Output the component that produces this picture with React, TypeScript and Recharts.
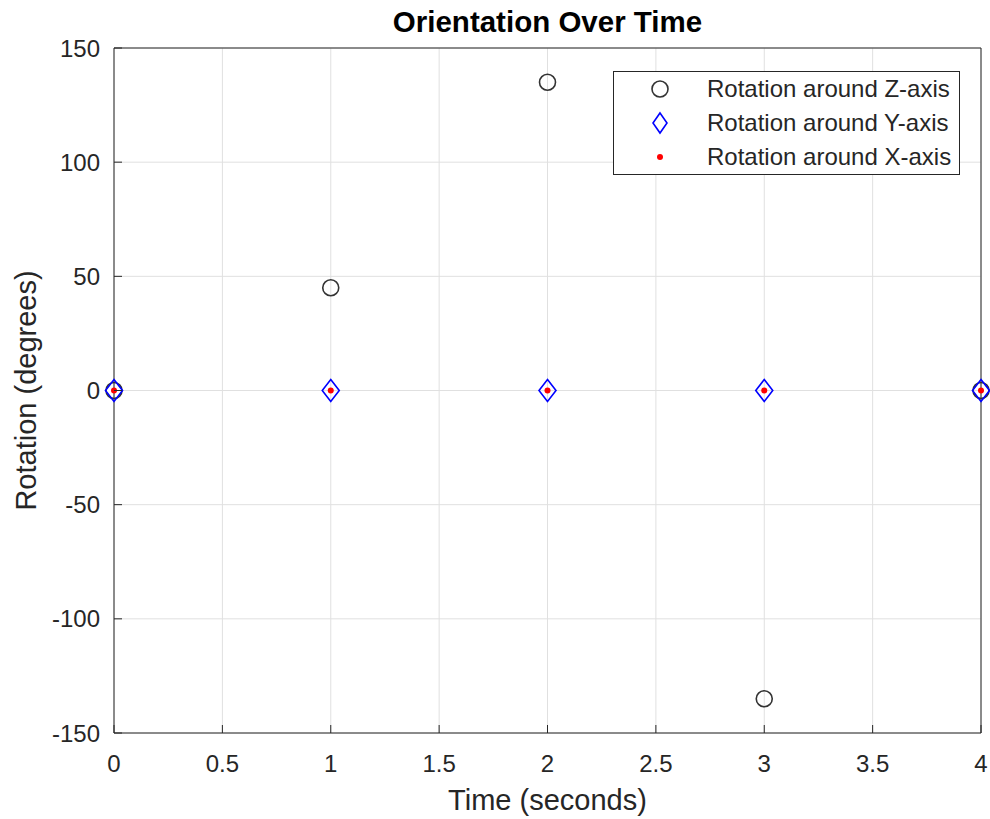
import React from "react";
import {
  ScatterChart,
  Scatter,
  XAxis,
  YAxis,
  CartesianGrid,
  ReferenceLine,
  Legend,
  Label,
} from "recharts";

const times = [0, 1, 2, 3, 4];
const rotZ = [0, 45, 135, -135, 0];
const rotY = [0, 0, 0, 0, 0];
const rotX = [0, 0, 0, 0, 0];
const xTicks = [0, 0.5, 1, 1.5, 2, 2.5, 3, 3.5, 4];
const yTicks = [-150, -100, -50, 0, 50, 100, 150];

const FONT = '"Liberation Sans", Arial, Helvetica, sans-serif';
const INK = "#262626";

const zData = times.map((t, i) => ({ t, v: rotZ[i] }));
const yData = times.map((t, i) => ({ t, v: rotY[i] }));
const xData = times.map((t, i) => ({ t, v: rotX[i] }));

const CircleMark = ({ cx, cy }: any) => (
  <circle cx={cx} cy={cy} r={8} fill="none" stroke="#333333" strokeWidth={1.6} />
);
const DiamondMark = ({ cx, cy }: any) => (
  <polygon
    points={`${cx},${cy - 11} ${cx + 8.5},${cy} ${cx},${cy + 11} ${cx - 8.5},${cy}`}
    fill="none"
    stroke="#0000ff"
    strokeWidth={1.6}
  />
);
const DotMark = ({ cx, cy }: any) => <circle cx={cx} cy={cy} r={3} fill="#ff0000" />;

const XTick = ({ x, y, payload }: any) => (
  <g>
    <line x1={x} y1={y} x2={x} y2={y - 8} stroke={INK} />
    <text
      x={x}
      y={y + 30}
      textAnchor="middle"
      dominantBaseline="central"
      fill={INK}
      fontSize={24}
      fontFamily={FONT}
    >
      {payload.value}
    </text>
  </g>
);

const YTick = ({ x, y, payload }: any) => (
  <g>
    <line x1={x} y1={y} x2={x + 8} y2={y} stroke={INK} />
    <text
      x={x - 14}
      y={y}
      textAnchor="end"
      dominantBaseline="central"
      fill={INK}
      fontSize={24}
      fontFamily={FONT}
    >
      {payload.value}
    </text>
  </g>
);

const legendItems = [
  { name: "Rotation around Z-axis", mark: <circle cx={12} cy={12} r={8} fill="none" stroke="#333333" strokeWidth={1.6} /> },
  { name: "Rotation around Y-axis", mark: <polygon points="12,2 19,12 12,22 5,12" fill="none" stroke="#0000ff" strokeWidth={1.6} /> },
  { name: "Rotation around X-axis", mark: <circle cx={12} cy={12} r={3} fill="#ff0000" /> },
];

const LegendBox = () => (
  <div
    style={{
      width: 347,
      height: 104,
      boxSizing: "border-box",
      border: `1px solid ${INK}`,
      background: "#fff",
      fontFamily: FONT,
      fontSize: 24,
      color: INK,
      paddingTop: 0,
    }}
  >
    {legendItems.map((item) => (
      <div key={item.name} style={{ display: "flex", alignItems: "center", height: 34 }}>
        <svg width={24} height={24} style={{ marginLeft: 34, marginRight: 59 }}>
          {item.mark}
        </svg>
        <span style={{ marginLeft: -24 }}>{item.name}</span>
      </div>
    ))}
  </div>
);

export default function App() {
  return (
    <div style={{ position: "absolute", left: 0, top: 0, width: 990, height: 819, background: "#fff" }}>
      <div
        style={{
          position: "absolute",
          left: 114,
          width: 867,
          top: 5,
          textAlign: "center",
          fontFamily: FONT,
          fontWeight: "bold",
          fontSize: 29.5,
          color: "#000",
        }}
      >
        Orientation Over Time
      </div>
      <ScatterChart width={990} height={819} margin={{ top: 48, right: 9, bottom: 0, left: 0 }}>
        <CartesianGrid stroke="#e0e0e0" strokeWidth={1} />
        <XAxis
          type="number"
          dataKey="t"
          domain={[0, 4]}
          ticks={xTicks}
          height={86}
          tickSize={0}
          tickMargin={0}
          tickLine={false}
          tick={<XTick />}
          axisLine={{ stroke: INK }}
          interval={0}
        >
          <Label
            content={({ viewBox }: any) => (
              <text
                x={viewBox.x + viewBox.width / 2}
                y={viewBox.y + 67}
                textAnchor="middle"
                dominantBaseline="central"
                fill={INK}
                fontSize={29}
                fontFamily={FONT}
              >
                Time (seconds)
              </text>
            )}
          />
        </XAxis>
        <YAxis
          type="number"
          dataKey="v"
          domain={[-150, 150]}
          ticks={yTicks}
          width={114}
          tickSize={0}
          tickMargin={0}
          tickLine={false}
          tick={<YTick />}
          axisLine={{ stroke: INK }}
          interval={0}
        >
          <Label
            content={({ viewBox }: any) => {
              const cx = viewBox.x + 26;
              const cy = viewBox.y + viewBox.height / 2;
              return (
                <text
                  x={cx}
                  y={cy}
                  transform={`rotate(-90 ${cx} ${cy})`}
                  textAnchor="middle"
                  dominantBaseline="central"
                  fill={INK}
                  fontSize={29}
                  fontFamily={FONT}
                >
                  Rotation (degrees)
                </text>
              );
            }}
          />
        </YAxis>
        <ReferenceLine y={150} stroke={INK} />
        <ReferenceLine x={4} stroke={INK} />
        <Scatter name="Rotation around Z-axis" data={zData} shape={<CircleMark />} isAnimationActive={false} />
        <Scatter name="Rotation around Y-axis" data={yData} shape={<DiamondMark />} isAnimationActive={false} />
        <Scatter name="Rotation around X-axis" data={xData} shape={<DotMark />} isAnimationActive={false} />
        <Legend
          layout="vertical"
          align="center"
          verticalAlign="middle"
          content={() => <LegendBox />}
          wrapperStyle={{ left: 613, top: 71, width: 347, height: 104 }}
        />
      </ScatterChart>
    </div>
  );
}
